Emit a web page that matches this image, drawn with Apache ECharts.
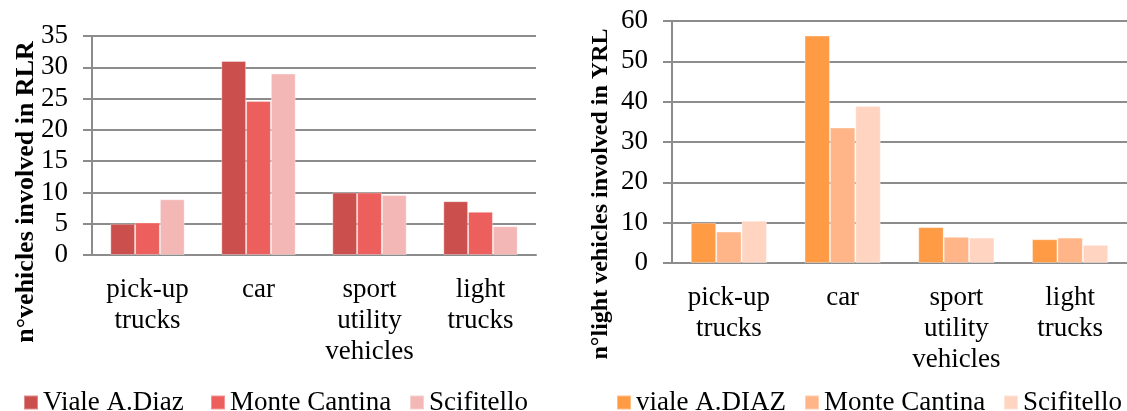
<!DOCTYPE html>
<html>
<head>
<meta charset="utf-8">
<script src="https://cdn.jsdelivr.net/npm/echarts@6/dist/echarts.min.js"></script>
<style>
html, body { margin: 0; padding: 0; background: #fff; }
#main { width: 1127px; height: 411px; }
</style>
</head>
<body>
<div id="main"></div>
<script>
// data
var categories = ['pick-up\ntrucks', 'car', 'sport\nutility\nvehicles', 'light\ntrucks'];

var rlrNames = ['Viale A.Diaz', 'Monte Cantina', 'Scifitello'];
var rlrViale = [5, 31, 10, 8.6];
var rlrMonte = [5.2, 24.6, 10, 6.9];
var rlrScif = [8.9, 29, 9.6, 4.6];

var yrlNames = ['viale A.DIAZ', 'Monte Cantina', 'Scifitello'];
var yrlViale = [10, 56.4, 8.9, 5.9];
var yrlMonte = [7.8, 33.6, 6.5, 6.3];
var yrlScif = [10.5, 38.9, 6.3, 4.5];

var redColors = ['#CB504D', '#EC5F5C', '#F3B7B6'];
var orangeColors = ['#FF9A45', '#FFB587', '#FFD4C1'];

var font = 'Liberation Serif';
var gray = '#8c8c8c';

var myChart = echarts.init(document.getElementById('main'));

function xAxisCfg(gridIndex) {
    return {
        type: 'category',
        gridIndex: gridIndex,
        data: categories,
        axisLine: { lineStyle: { color: gray, width: 2 } },
        axisTick: { length: 7, lineStyle: { color: gray, width: 2 } },
        axisLabel: {
            interval: 0,
            margin: 19,
            color: '#000',
            fontFamily: font,
            fontSize: 27,
            lineHeight: 31
        }
    };
}

function yAxisCfg(gridIndex, max, interval) {
    return {
        type: 'value',
        gridIndex: gridIndex,
        min: 0,
        max: max,
        interval: interval,
        axisLine: { show: true, lineStyle: { color: gray, width: 2 } },
        axisTick: { show: true, length: 9, lineStyle: { color: gray, width: 2 } },
        splitLine: { lineStyle: { color: gray, width: 2 } },
        axisLabel: {
            margin: 24,
            color: '#000',
            fontFamily: font,
            fontSize: 27
        }
    };
}

function barSeries(name, data, color, idx) {
    return {
        name: name,
        type: 'bar',
        xAxisIndex: idx,
        yAxisIndex: idx,
        data: data,
        barGap: '0%',
        barCategoryGap: '33%',
        itemStyle: { color: color, borderColor: 'rgba(255,255,255,0.35)', borderWidth: 1 }
    };
}

// one legend per item so each sits where it does in the picture
function legendItem(name, color, left) {
    return {
        left: left,
        top: 389,
        padding: 0,
        icon: 'rect',
        itemWidth: 14,
        itemHeight: 14,
        textStyle: { color: '#000', fontFamily: font, fontSize: 27, padding: [16, 0, 0, 0] },
        data: [{ name: name, itemStyle: { color: color } }]
    };
}

var legendLefts = [23, 210, 409];
var legendLefts2 = [616, 804, 1003];

option = {
    animation: false,
    grid: [
        { left: 92, top: 36, width: 444, height: 219 },
        { left: 672, top: 21, width: 459, height: 242 }
    ],
    xAxis: [xAxisCfg(0), xAxisCfg(1)],
    yAxis: [yAxisCfg(0, 35, 5), yAxisCfg(1, 60, 10)],
    legend: rlrNames.map(function (n, i) {
        return legendItem(n, redColors[i], legendLefts[i]);
    }).concat(yrlNames.map(function (n, i) {
        return legendItem(n, orangeColors[i], legendLefts2[i]);
    })),
    graphic: [
        {
            type: 'text', x: 26, y: 192, rotation: Math.PI / 2,
            style: {
                text: 'n°vehicles involved in RLR', fill: '#000',
                font: 'bold 26px "Liberation Serif"', align: 'center', verticalAlign: 'middle'
            }
        },
        {
            type: 'text', x: 601, y: 194, rotation: Math.PI / 2,
            style: {
                text: 'n°light vehicles involved in YRL', fill: '#000',
                font: 'bold 24px "Liberation Serif"', align: 'center', verticalAlign: 'middle'
            }
        }
    ],
    series: [
        barSeries(rlrNames[0], rlrViale, redColors[0], 0),
        barSeries(rlrNames[1], rlrMonte, redColors[1], 0),
        barSeries(rlrNames[2], rlrScif, redColors[2], 0),
        barSeries(yrlNames[0], yrlViale, orangeColors[0], 1),
        barSeries(yrlNames[1], yrlMonte, orangeColors[1], 1),
        barSeries(yrlNames[2], yrlScif, orangeColors[2], 1)
    ]
};

myChart.setOption(option);
</script>
</body>
</html>
